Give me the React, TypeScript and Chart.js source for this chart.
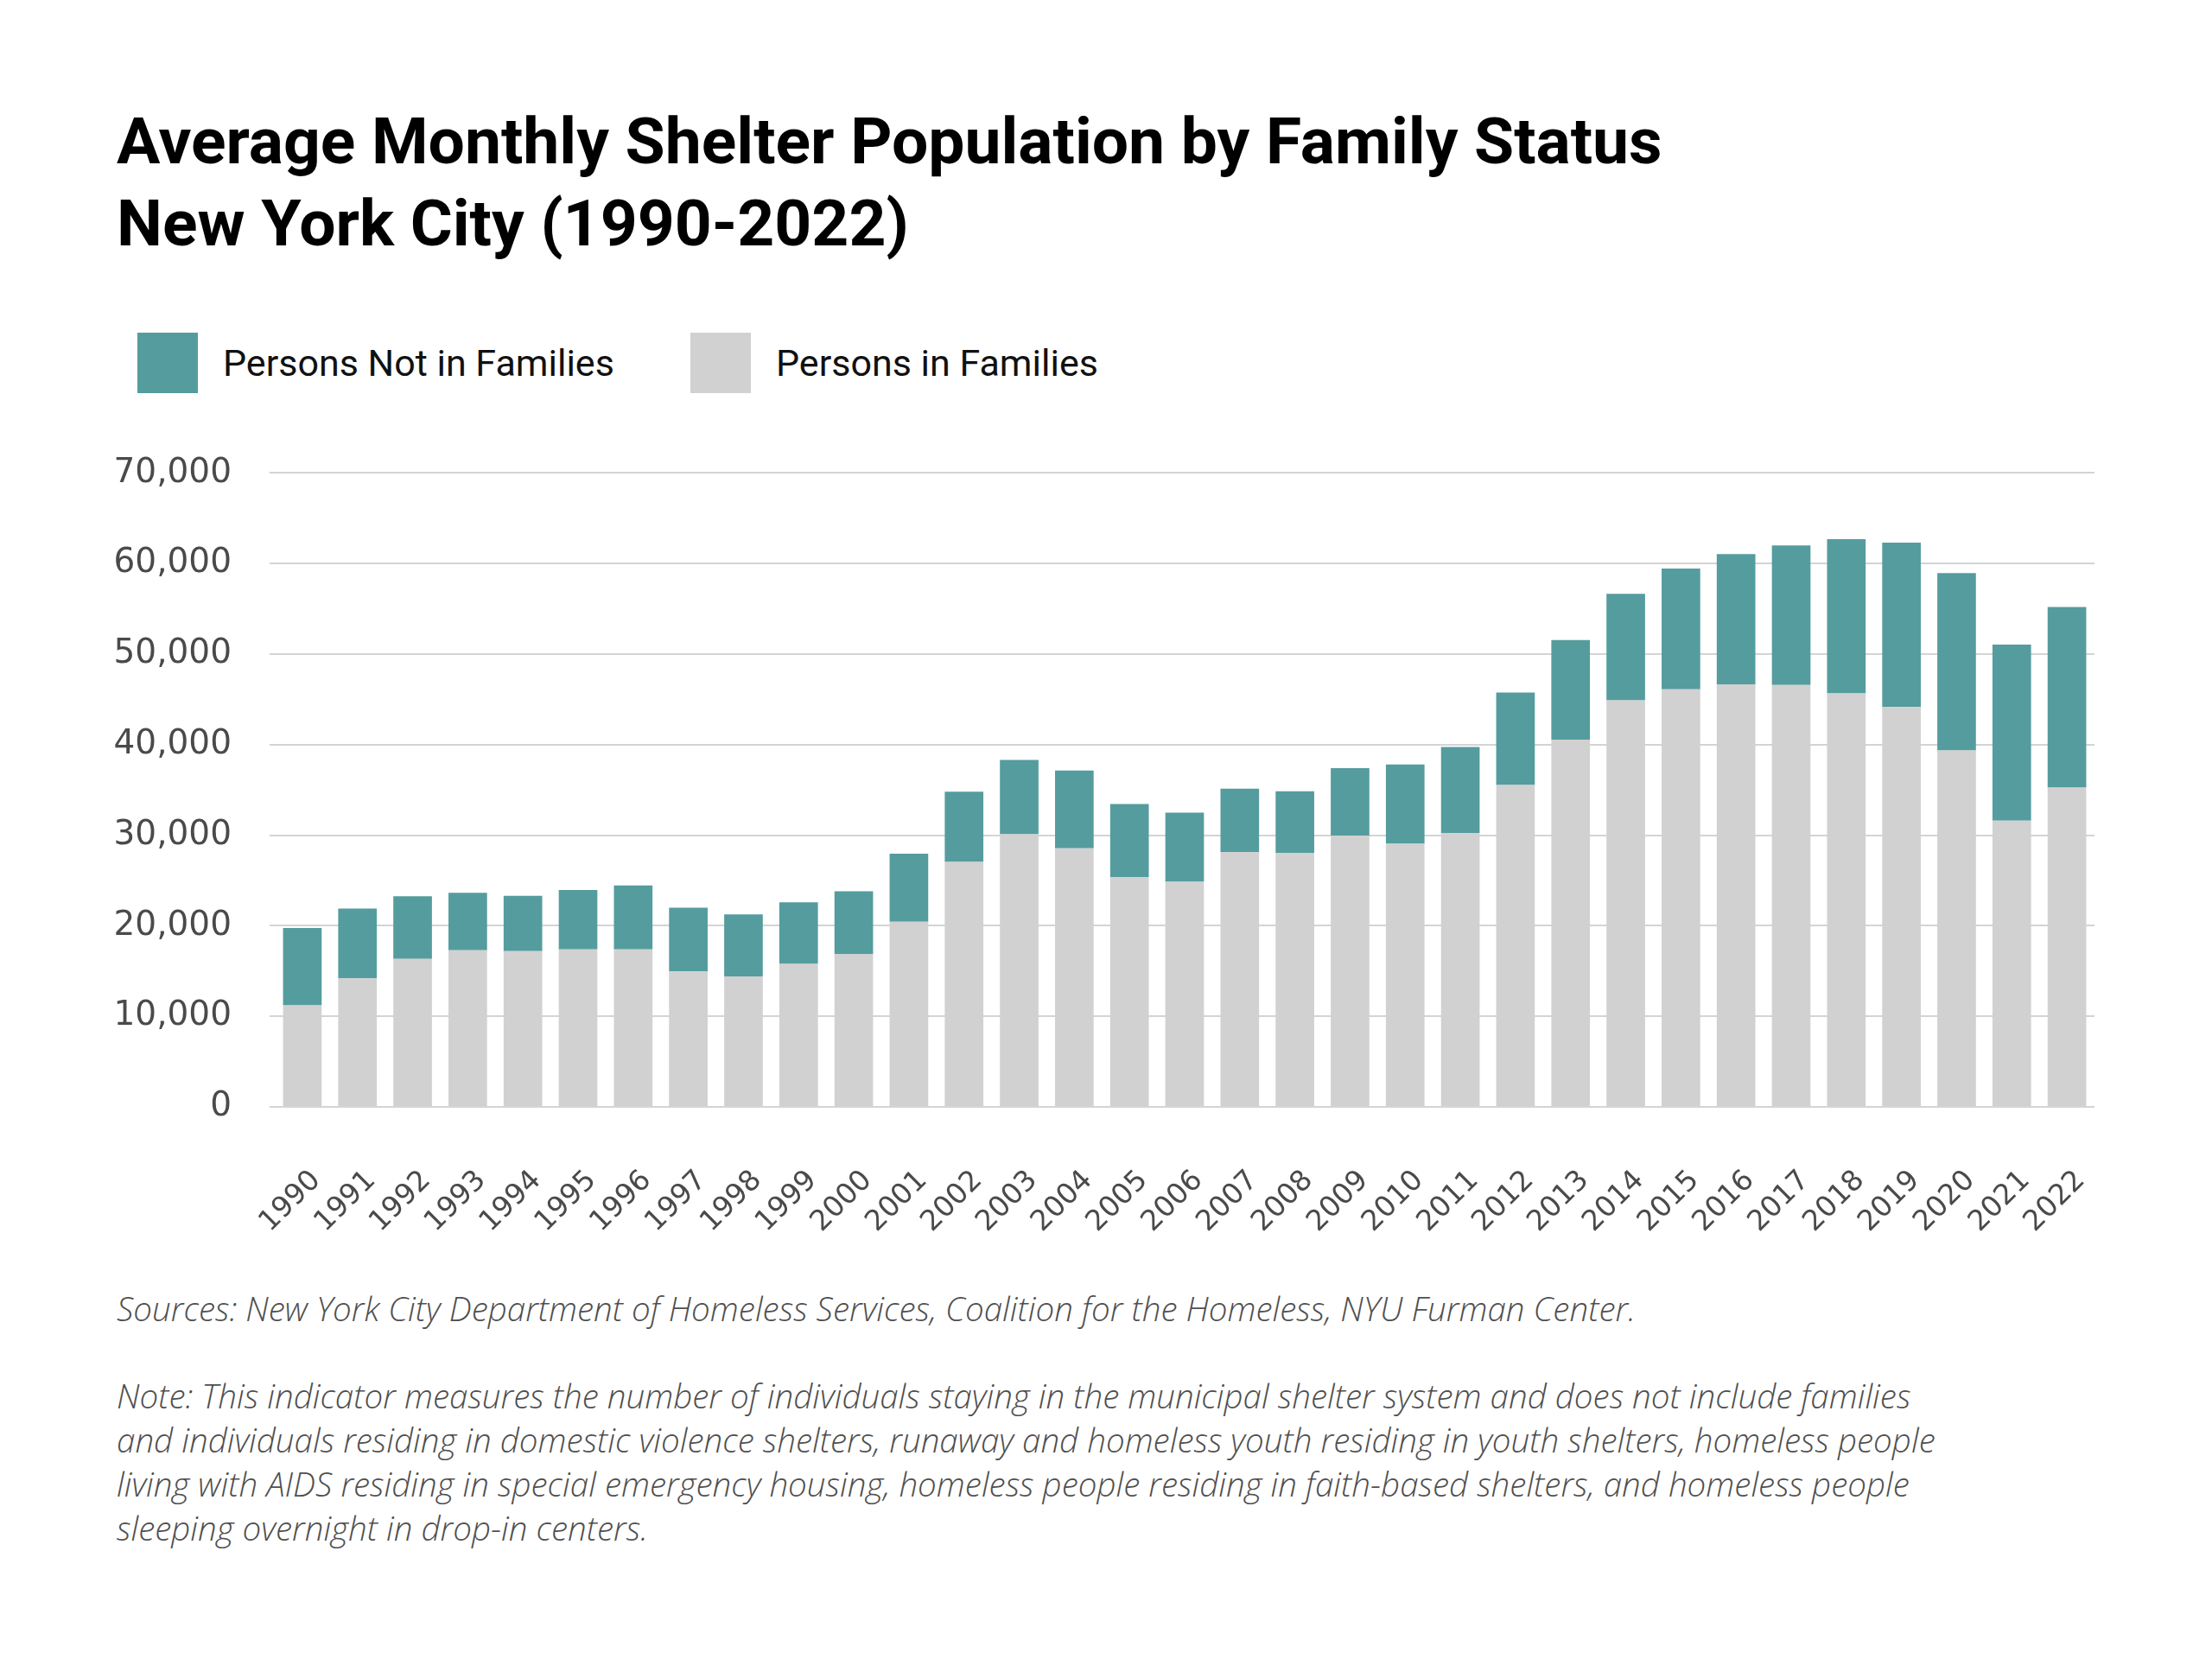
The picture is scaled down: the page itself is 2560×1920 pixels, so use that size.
import { useEffect, useRef } from "react";
import { Chart, registerables } from "chart.js";

Chart.register(...registerables);

const years = [
  "1990", "1991", "1992", "1993", "1994", "1995", "1996", "1997", "1998", "1999",
  "2000", "2001", "2002", "2003", "2004", "2005", "2006", "2007", "2008", "2009",
  "2010", "2011", "2012", "2013", "2014", "2015", "2016", "2017", "2018", "2019",
  "2020", "2021", "2022",
];

const personsInFamilies = [
  11200, 14200, 16350, 17300, 17200, 17400, 17400, 14950, 14400, 15800,
  16900, 20450, 27050, 30100, 28550, 25350, 24850, 28150, 28050, 29950,
  29050, 30250, 35550, 40550, 44900, 46100, 46650, 46600, 45650, 44150,
  39350, 31600, 35250,
];

const personsNotInFamilies = [
  8550, 7700, 6900, 6350, 6100, 6550, 7050, 7050, 6850, 6800,
  6900, 7500, 7750, 8200, 8600, 8100, 7650, 7000, 6800, 7450,
  8750, 9500, 10200, 11000, 11750, 13350, 14400, 15400, 17050, 18150,
  19600, 19450, 19950,
];

const seriesLabels = ["Persons Not in Families", "Persons in Families"];

const TEAL = "#559c9e";
const GRAY = "#d1d1d1";

const titleLines = [
  "Average Monthly Shelter Population by Family Status",
  "New York City (1990-2022)",
];

const sourceText =
  "Sources: New York City Department of Homeless Services, Coalition for the Homeless, NYU Furman Center.";

const noteLines = [
  "Note: This indicator measures the number of individuals staying in the municipal shelter system and does not include families",
  "and individuals residing in domestic violence shelters, runaway and homeless youth residing in youth shelters, homeless people",
  "living with AIDS residing in special emergency housing, homeless people residing in faith-based shelters, and homeless people",
  "sleeping overnight in drop-in centers.",
];

function ShelterChart() {
  const ref = useRef<HTMLCanvasElement | null>(null);
  useEffect(() => {
    if (!ref.current) return;
    const chart = new Chart(ref.current, {
      type: "bar",
      data: {
        labels: years,
        datasets: [
          {
            label: seriesLabels[1],
            data: personsInFamilies,
            backgroundColor: GRAY,
            borderWidth: 0,
            barPercentage: 0.7,
            categoryPercentage: 1.0,
          },
          {
            label: seriesLabels[0],
            data: personsNotInFamilies,
            backgroundColor: TEAL,
            borderWidth: 0,
            barPercentage: 0.7,
            categoryPercentage: 1.0,
          },
        ],
      },
      options: {
        animation: false,
        responsive: false,
        maintainAspectRatio: false,
        devicePixelRatio: 1,
        layout: { padding: { top: 53, right: 136, bottom: 0, left: 0 } },
        plugins: {
          legend: { display: false },
          title: { display: false },
          tooltip: { enabled: false },
        },
        scales: {
          x: {
            stacked: true,
            grid: { display: false, drawTicks: false },
            border: { display: false },
            ticks: {
              autoSkip: false,
              maxRotation: 45,
              minRotation: 45,
              padding: 66,
              labelOffset: 16,
              color: "#4a4a4a",
              font: { family: "DejaVu Sans", size: 33 },
            },
            afterFit: (s: any) => {
              s.height = 180;
            },
          },
          y: {
            stacked: true,
            min: 0,
            max: 70000,
            border: { display: false },
            grid: { color: "#d4d4d4", lineWidth: 2, drawTicks: true, tickLength: 6 },
            ticks: {
              stepSize: 10000,
              padding: 44,
              color: "#4a4a4a",
              font: { family: "DejaVu Sans", size: 39 },
              callback: (v: any) => Number(v).toLocaleString("en-US"),
            },
            afterFit: (s: any) => {
              s.width = 318;
            },
          },
        },
      },
    });
    return () => chart.destroy();
  }, []);
  return (
    <canvas
      ref={ref}
      width={2560}
      height={981}
      style={{ position: "absolute", left: 0, top: 480, width: 2560, height: 981 }}
    />
  );
}

export default function App() {
  const legendText: React.CSSProperties = {
    position: "absolute",
    fontFamily: "Roboto, 'Noto Sans', sans-serif",
    fontSize: 43,
    lineHeight: "70px",
    color: "#111",
    whiteSpace: "nowrap",
  };
  const noteStyle: React.CSSProperties = {
    position: "absolute",
    left: 135,
    fontFamily: "'Open Sans', sans-serif",
    fontStyle: "italic",
    fontWeight: 300,
    fontSize: 38.6,
    lineHeight: "51px",
    color: "#4f4f4f",
    whiteSpace: "nowrap",
  };
  return (
    <div
      style={{
        position: "absolute",
        left: 0,
        top: 0,
        width: 2560,
        height: 1920,
        background: "#ffffff",
        overflow: "hidden",
      }}
    >
      <div
        style={{
          position: "absolute",
          left: 135,
          top: 116,
          fontFamily: "Roboto, 'Noto Sans', sans-serif",
          fontWeight: 700,
          fontSize: 75,
          lineHeight: "95px",
          color: "#000",
          whiteSpace: "nowrap",
        }}
      >
        {titleLines.map((t) => (
          <div key={t}>{t}</div>
        ))}
      </div>

      <div style={{ position: "absolute", left: 159, top: 385, width: 70, height: 70, background: TEAL }} />
      <div style={{ ...legendText, left: 258, top: 385 }}>{seriesLabels[0]}</div>
      <div style={{ position: "absolute", left: 799, top: 385, width: 70, height: 70, background: GRAY }} />
      <div style={{ ...legendText, left: 898, top: 385 }}>{seriesLabels[1]}</div>

      <ShelterChart />

      <div style={{ ...noteStyle, top: 1489 }}>{sourceText}</div>
      <div style={{ ...noteStyle, top: 1590 }}>
        {noteLines.map((t) => (
          <div key={t}>{t}</div>
        ))}
      </div>
    </div>
  );
}
